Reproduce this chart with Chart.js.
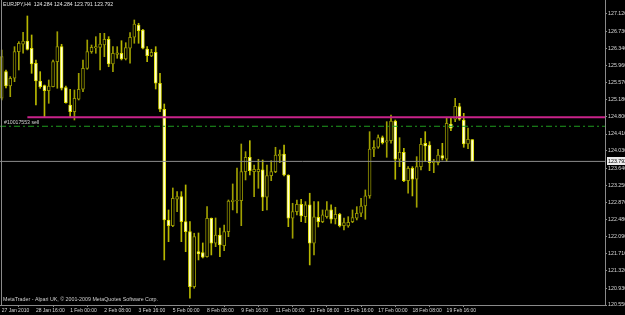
<!DOCTYPE html>
<html><head><meta charset="utf-8">
<script src="https://cdn.jsdelivr.net/npm/chart.js@4.4.0/dist/chart.umd.min.js"></script>
<style>html,body{margin:0;padding:0;background:#000;overflow:hidden;}#wrap{width:625px;height:315px;}</style>
</head><body><div id="wrap"><canvas id="c" width="625" height="315"></canvas></div>
<script>
const symbolTitle = "EURJPY,H4  124.284 124.284 123.791 123.792";
const copyrightText = "MetaTrader - Alpari UK, \u00A9 2001-2009 MetaQuotes Software Corp.";
const orderLabel = "#10017553 sell";

const opens = [125.217,125.818,125.495,125.669,126.269,126.436,126.511,126.346,126.007,125.608,
125.502,125.389,125.479,126.043,126.382,125.456,125.066,124.915,125.195,125.420,
125.894,126.269,126.353,126.368,126.420,126.549,125.991,126.210,126.233,126.104,
126.346,126.594,126.872,126.759,126.330,126.172,126.255,125.556,124.969,122.470,
122.341,122.937,122.996,122.432,122.206,120.964,121.754,121.732,121.641,122.508,
121.944,122.131,121.890,122.206,122.883,122.899,122.905,123.560,123.885,123.560,
123.560,123.599,122.982,123.470,123.560,123.915,123.960,123.486,122.508,122.657,
122.824,122.544,122.809,121.944,122.531,122.432,122.544,122.696,122.492,122.599,
122.341,122.334,122.432,122.508,122.621,122.786,123.012,124.066,124.111,124.328,
124.224,124.260,124.705,123.840,123.998,123.357,123.637,123.389,123.673,124.201,
124.163,123.763,123.763,123.921,123.840,124.637,124.743,125.027,124.727,124.185,124.284];
const highs = [126.307,125.856,125.705,126.382,126.495,126.707,127.075,126.646,126.082,125.818,
125.517,125.630,126.082,126.720,126.436,125.495,125.420,125.404,125.781,126.082,
126.533,126.420,126.608,126.684,126.684,126.608,126.382,126.382,126.517,126.472,
126.698,126.985,126.910,126.775,126.382,126.323,126.382,125.781,125.088,122.696,
123.192,123.109,123.109,123.260,122.432,122.170,122.176,121.951,122.770,122.515,
122.515,122.289,122.357,122.921,123.283,123.644,124.185,124.012,124.260,123.711,
123.840,123.824,123.711,123.808,124.111,124.050,124.163,123.490,122.847,122.921,
122.937,122.883,123.073,122.883,122.883,122.696,122.883,122.809,122.757,122.621,
122.515,122.544,122.696,122.770,122.960,123.147,124.463,124.260,124.389,124.366,
124.689,124.840,124.727,124.328,124.088,123.673,123.673,123.899,124.314,124.463,
124.237,123.840,124.066,124.201,124.788,124.766,125.217,125.104,124.878,124.547,124.284];
const lows = [125.179,125.450,125.253,125.592,125.856,126.233,126.307,125.781,125.066,125.443,
124.802,125.104,125.472,125.443,125.404,125.104,124.802,124.727,125.179,125.366,
125.872,126.233,126.233,125.856,126.156,125.930,125.818,126.120,126.082,126.082,
126.007,126.459,126.459,126.330,126.043,126.156,125.427,124.915,121.567,121.980,
122.319,122.657,121.980,121.754,120.702,120.928,121.567,121.612,121.628,121.680,
121.867,121.641,121.777,122.093,122.696,122.628,122.341,123.373,123.486,122.996,
123.185,122.680,122.696,123.357,123.538,123.763,123.463,122.319,122.057,122.583,
122.432,122.409,121.454,121.680,122.312,122.409,122.508,122.395,122.380,122.312,
122.244,122.305,122.409,122.470,122.544,122.486,122.960,123.899,124.088,124.185,
123.885,124.201,123.389,123.673,123.334,123.073,123.012,122.757,123.599,123.786,
123.583,123.538,123.711,123.824,123.786,124.486,124.689,124.720,124.111,124.079,123.791];
const closes = [126.156,125.495,125.669,126.269,126.459,126.511,126.323,125.991,125.608,125.479,
125.389,125.495,126.043,126.382,125.443,125.118,124.915,125.217,125.420,125.894,
126.269,126.368,126.382,126.443,126.549,125.991,126.233,126.246,126.104,126.359,
126.594,126.894,126.743,126.346,126.179,126.255,125.556,124.969,122.470,122.341,
122.960,122.996,122.432,122.206,120.964,122.093,121.702,121.628,122.508,121.944,
122.131,121.906,122.206,122.899,122.921,122.915,123.560,123.885,123.583,123.614,
123.614,122.982,123.470,123.560,123.937,123.960,123.486,122.508,122.657,122.824,
122.560,122.809,121.944,122.538,122.432,122.583,122.696,122.486,122.599,122.341,
122.413,122.418,122.522,122.621,122.786,123.012,124.073,124.111,124.328,124.215,
124.260,124.705,123.840,123.998,123.357,123.637,123.389,123.673,124.179,124.140,
123.763,123.802,123.937,123.863,124.653,124.540,125.036,124.743,124.185,124.292,123.792];

const xTickBars = [0,8,16,24,32,40,48,56,64,72,80,88,96,104];
const xTickLabels = ["27 Jan 2010","28 Jan 16:00","1 Feb 00:00","2 Feb 08:00","3 Feb 16:00","5 Feb 00:00","8 Feb 08:00","9 Feb 16:00","11 Feb 00:00","12 Feb 08:00","15 Feb 16:00","17 Feb 00:00","18 Feb 08:00","19 Feb 16:00"];
const yTickValues = [127.120,126.730,126.340,125.960,125.570,125.180,124.800,124.410,124.030,123.640,123.250,122.870,122.480,122.090,121.710,121.320,120.930,120.550];

const trendLevel = 124.79;
const trendStartBar = 6;
const orderLevel = 124.585;
const bidLevel = 123.792;

const X_MIN = -0.397, X_MAX = 141.02;
const Y_MIN = 120.55, Y_MAX = 127.436;
const FONT = "'Liberation Sans', Arial, sans-serif";

const idx = opens.map((_, i) => i);
const isBull = idx.map(i => closes[i] >= opens[i]);

const wickData = idx.map(i => ({x: i, y: [lows[i], highs[i]]}));
const bodyData = idx.map(i => ({x: i, y: [opens[i], closes[i]]}));

const textPlugin = {
  id: 'mtText',
  beforeDraw(chart) {
    const ctx = chart.ctx;
    ctx.save();
    ctx.fillStyle = '#000';
    ctx.fillRect(0, 0, chart.width, chart.height);
    ctx.restore();
  },
  afterDraw(chart) {
    const ctx = chart.ctx;
    const ys = chart.scales.y;
    const a = chart.chartArea;
    ctx.save();
    ctx.strokeStyle = '#8a8a8a';
    ctx.lineWidth = 1;
    ctx.beginPath(); ctx.moveTo(1.5, a.top); ctx.lineTo(1.5, a.bottom); ctx.stroke();
    ctx.fillStyle = '#e6e6e6';
    ctx.font = '5.2px ' + FONT;
    ctx.textBaseline = 'middle';
    ctx.textAlign = 'left';
    ctx.fillText(symbolTitle, 3, 5);
    ctx.fillStyle = '#d0d0d0';
    ctx.fillText(orderLabel, 4, ys.getPixelForValue(orderLevel) - 4);
    ctx.font = '5.3px ' + FONT;
    ctx.fillText(copyrightText, 3, 300);
    const yb = ys.getPixelForValue(bidLevel);
    ctx.fillStyle = '#ececec';
    ctx.fillRect(a.right + 2, Math.round(yb) - 4, 20, 8);
    ctx.fillStyle = '#000';
    ctx.font = '5.3px ' + FONT;
    ctx.fillText(bidLevel.toFixed(3), a.right + 3, yb);
    ctx.restore();
  }
};

new Chart(document.getElementById('c'), {
  type: 'bar',
  data: {
    datasets: [
      {
        type: 'line', label: 'trend', order: -1,
        data: [{x: trendStartBar, y: trendLevel}, {x: X_MAX, y: trendLevel}],
        borderColor: '#c8238a', borderWidth: 2, pointRadius: 0
      },
      {
        type: 'line', label: 'order', order: -1,
        data: [{x: X_MIN, y: orderLevel}, {x: X_MAX, y: orderLevel}],
        borderColor: '#1f9a1f', borderWidth: 1, borderDash: [6, 3, 2, 3], pointRadius: 0
      },
      {
        type: 'line', label: 'bid', order: -1,
        data: [{x: X_MIN, y: bidLevel}, {x: X_MAX, y: bidLevel}],
        borderColor: '#8c8c8c', borderWidth: 1, pointRadius: 0
      },
      {
        label: 'bodies', order: 0, data: bodyData, grouped: false,
        barThickness: 3, minBarLength: 1, borderSkipped: false, borderWidth: 1,
        backgroundColor: idx.map(i => isBull[i] ? '#000000' : '#ffffd8'),
        borderColor: idx.map(i => isBull[i] ? '#909000' : '#e0e000')
      },
      {
        label: 'wicks', order: 1, data: wickData, grouped: false,
        barThickness: 1, borderWidth: 0,
        backgroundColor: idx.map(i => isBull[i] ? '#a0a000' : '#b8b800')
      }
    ]
  },
  options: {
    responsive: false, animation: false, devicePixelRatio: 1,
    layout: {padding: 0},
    plugins: {legend: {display: false}, tooltip: {enabled: false}, title: {display: false}},
    scales: {
      x: {
        type: 'linear', position: 'bottom', min: X_MIN, max: X_MAX, offset: false,
        grid: {display: true, drawOnChartArea: false, drawTicks: true, tickLength: 2, color: '#8a8a8a'},
        border: {display: true, color: '#8a8a8a'},
        ticks: {align: 'start', padding: 1, autoSkip: false, maxRotation: 0, color: '#d8d8d8',
          font: {size: 5, family: FONT},
          callback: (v, i) => xTickLabels[i]},
        afterBuildTicks: s => { s.ticks = xTickBars.map(v => ({value: v})); },
        afterFit: s => { s.height = 10; s.paddingLeft = 0; s.paddingRight = 0; }
      },
      y: {
        type: 'linear', position: 'right', min: Y_MIN, max: Y_MAX,
        grid: {display: true, drawOnChartArea: false, drawTicks: true, tickLength: 2, color: '#8a8a8a'},
        border: {display: true, color: '#8a8a8a'},
        ticks: {padding: 1, color: '#d8d8d8', font: {size: 5.3, family: FONT},
          callback: v => Number(v).toFixed(3)},
        afterBuildTicks: s => { s.ticks = yTickValues.map(v => ({value: v})); },
        afterFit: s => { s.width = 20; s.paddingTop = 0; s.paddingBottom = 0; }
      }
    }
  },
  plugins: [textPlugin]
});
</script>
</body></html>
